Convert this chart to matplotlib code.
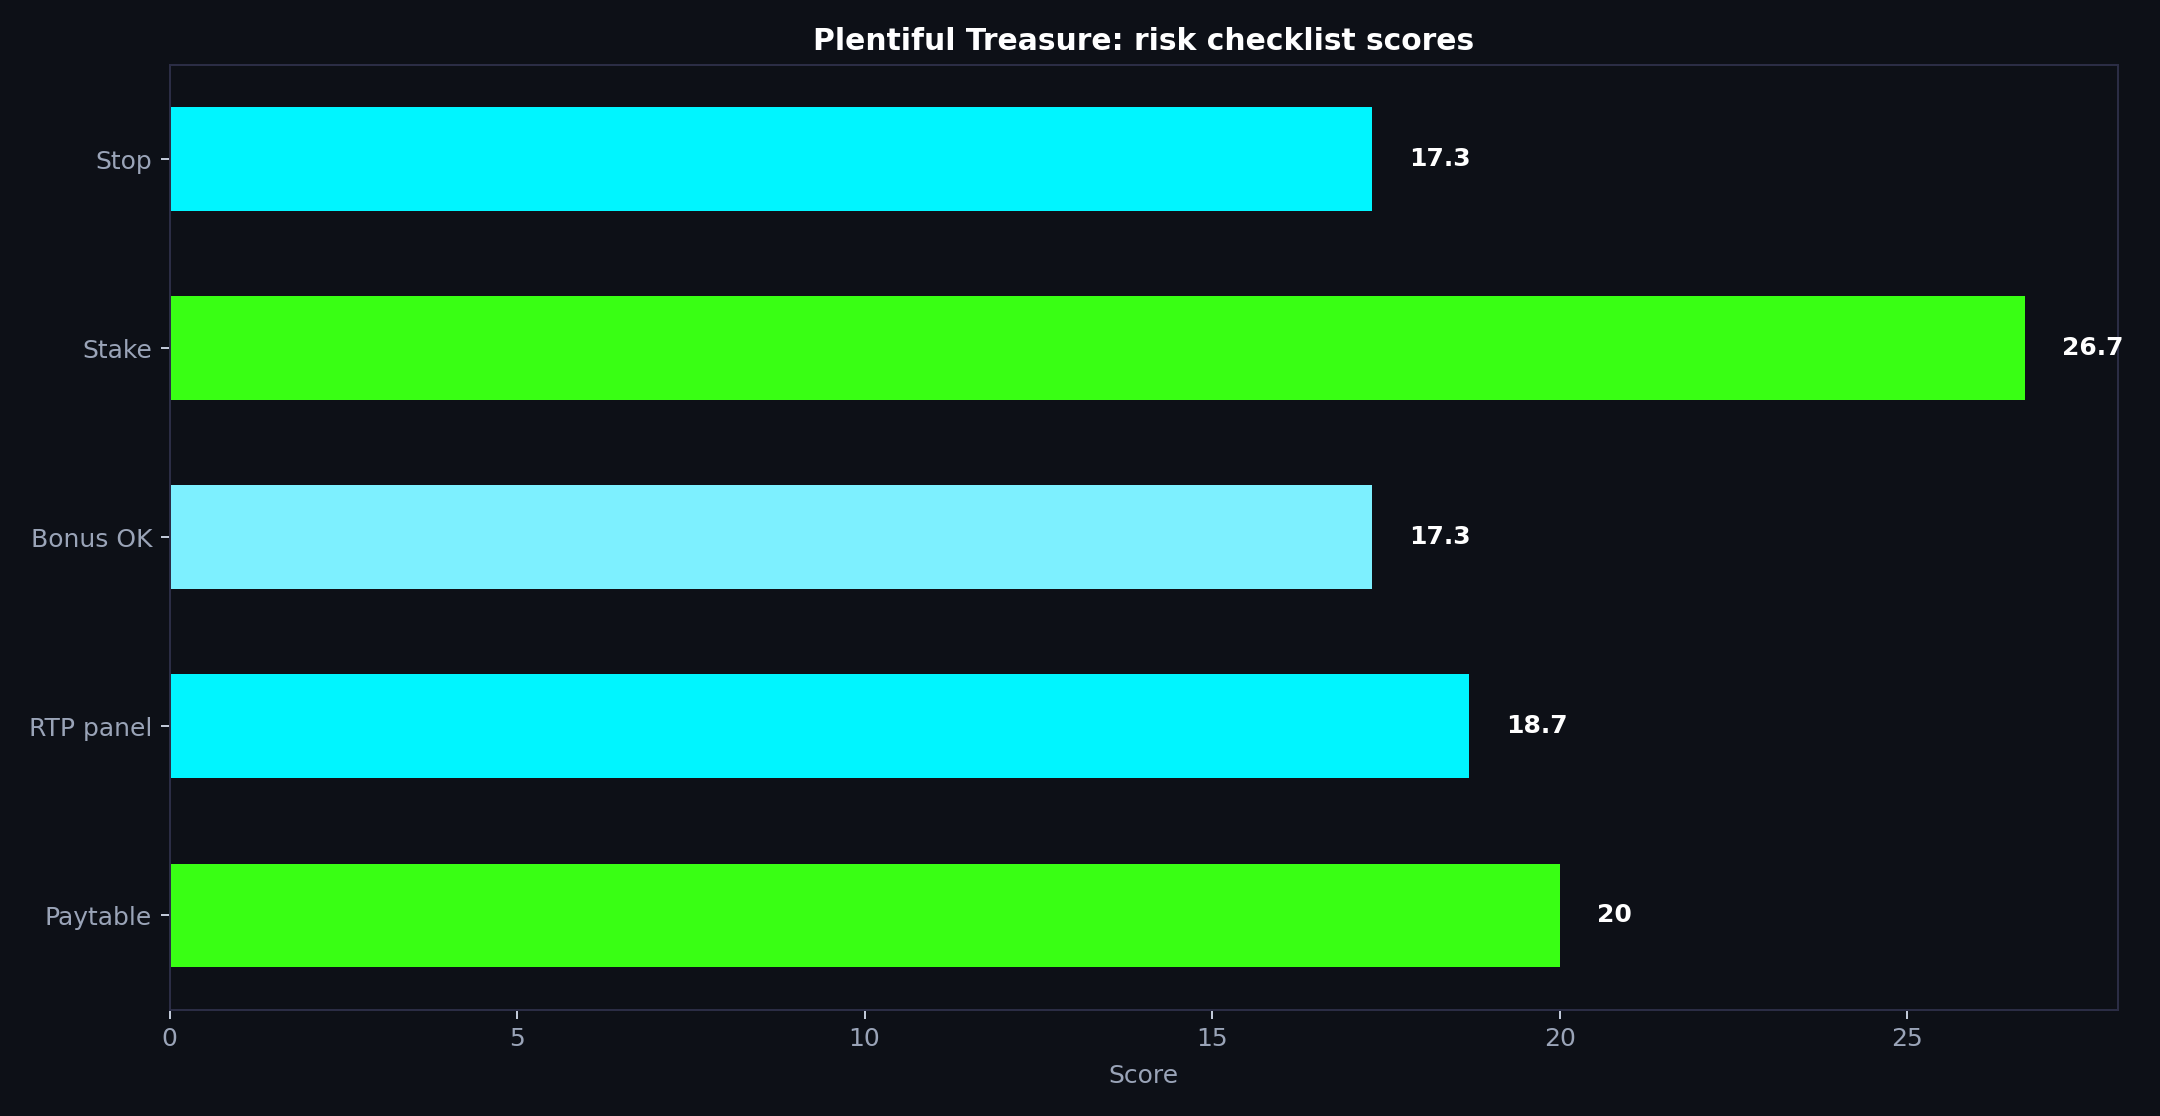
import matplotlib
matplotlib.use("Agg")
import matplotlib.pyplot as plt

categories = ["Stop", "Stake", "Bonus OK", "RTP panel", "Paytable"]
scores = [17.3, 26.7, 17.3, 18.7, 20]
bar_colors = ["#00f5ff", "#39ff14", "#7df0ff", "#00f5ff", "#39ff14"]
value_labels = ["17.3", "26.7", "17.3", "18.7", "20"]

bg = "#0d1017"
spine_col = "#2b2d45"
text_col = "#9aa4b8"

fig, ax = plt.subplots(figsize=(12, 6.2), dpi=180)
fig.patch.set_facecolor(bg)
ax.set_facecolor(bg)
fig.subplots_adjust(left=0.0785, right=0.9806, top=0.9418, bottom=0.095)

ypos = list(range(len(categories)))[::-1]
ax.barh(ypos, scores, height=0.55, color=bar_colors)

vmax = max(scores)
for y, v, lab in zip(ypos, scores, value_labels):
    ax.text(v + vmax * 0.02, y, lab, color="white", fontsize=10,
            fontweight="bold", va="center", ha="left")

ax.set_yticks(ypos)
ax.set_yticklabels(categories)
ax.set_ylim(-0.5, len(categories) - 0.5)
ax.set_xlim(0, vmax * 1.05)

ax.set_title("Plentiful Treasure: risk checklist scores", color="white",
             fontsize=11.9, fontweight="bold", pad=6)
ax.set_xlabel("Score", color=text_col, fontsize=10, labelpad=5)
ax.tick_params(colors="#c0c8d8", labelcolor=text_col, labelsize=10)
for s in ax.spines.values():
    s.set_color(spine_col)

fig.savefig("out.png", dpi=180, facecolor=bg)
